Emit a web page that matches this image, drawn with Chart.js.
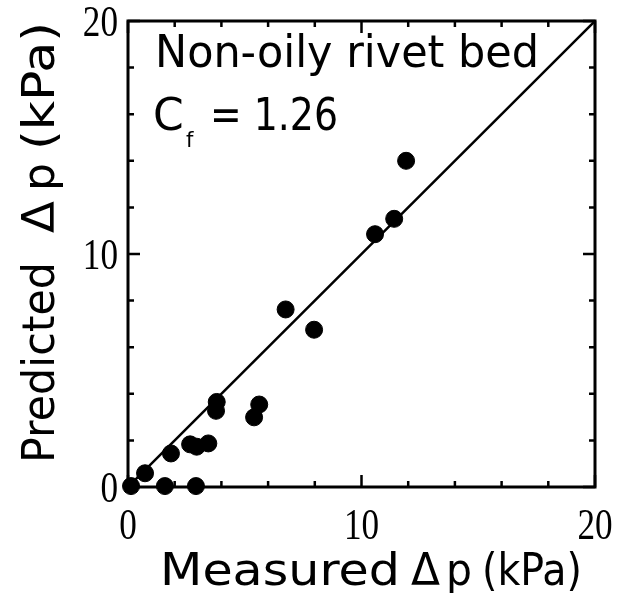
<!DOCTYPE html>
<html>
<head>
<meta charset="utf-8">
<script src="https://cdn.jsdelivr.net/npm/chart.js@4.4.1/dist/chart.umd.min.js"></script>
<style>
  body { margin: 0; background: #fff; }
  canvas { display: block; }
</style>
</head>
<body>
<canvas id="c" width="636" height="593"></canvas>
<script>
// measured vs predicted pressure drop, kPa
const measured  = [0.13, 0.73, 1.58, 2.91, 1.84, 2.66, 2.94, 3.44, 3.80, 3.77, 5.40, 5.62, 6.75, 7.97, 10.58, 11.40, 11.91];
const predicted = [0.04, 0.59, 0.04, 0.04, 1.44, 1.83, 1.73, 1.87, 3.65, 3.27, 2.99, 3.54, 7.62, 6.75, 10.85, 11.51, 14.00];

// y = x reference line
const lineX = [0, 20];
const lineY = [0, 20];

const axisMin = 0, axisMax = 20, tickStep = 2;
const labelTicks = [0, 10, 20];

const xTitleParts = ['Measured', 'Δ', 'p', '(kPa)'];
const yTitleParts = ['Predicted', 'Δ', 'p', '(kPa)'];
const noteLine1 = 'Non-oily rivet bed';
const cfValue = '= 1.26';

const sans = '"DejaVu Sans", "Liberation Sans", sans-serif';
const serif = '"Liberation Serif", "Times New Roman", serif';

// where each word of the titles sits (px along the text direction)
const xTitleSpans = [[160, 400], [411, 440], [446, 472], [482, 582]];
const yTitleSpans = [[463, 262], [233, 201], [191, 163], [150, 22]];

// draws text squeezed/stretched to a given width
function fitText(ctx, text, x, y, width, font) {
  ctx.save();
  ctx.font = font;
  const w = ctx.measureText(text).width;
  ctx.translate(x, y);
  ctx.scale(width / w, 1);
  ctx.fillText(text, 0, 0);
  ctx.restore();
}

const framePlugin = {
  id: 'frame',
  afterDraw(chart) {
    const ctx = chart.ctx;
    const a = chart.chartArea;
    const xs = chart.scales.x, ys = chart.scales.y;
    ctx.save();
    ctx.strokeStyle = '#000';
    ctx.fillStyle = '#000';
    ctx.lineWidth = 3;
    ctx.strokeRect(a.left, a.top, a.right - a.left, a.bottom - a.top);

    // inward ticks on all four sides
    ctx.lineWidth = 2.5;
    ctx.beginPath();
    xs.ticks.forEach(t => {
      const px = xs.getPixelForValue(t.value);
      const len = t.value % 10 === 0 ? 12 : 6;
      ctx.moveTo(px, a.bottom); ctx.lineTo(px, a.bottom - len);
      ctx.moveTo(px, a.top); ctx.lineTo(px, a.top + len);
    });
    ys.ticks.forEach(t => {
      const py = ys.getPixelForValue(t.value);
      const len = t.value % 10 === 0 ? 12 : 6;
      ctx.moveTo(a.left, py); ctx.lineTo(a.left + len, py);
      ctx.moveTo(a.right, py); ctx.lineTo(a.right - len, py);
    });
    ctx.stroke();

    // tick labels, narrow serif digits
    const tf = '44px ' + serif;
    ctx.font = tf;
    labelTicks.forEach(v => {
      const s = String(v);
      const w = ctx.measureText(s).width * 0.8;
      fitText(ctx, s, xs.getPixelForValue(v) - w / 2, 539, w, tf);
      fitText(ctx, s, 118 - w, ys.getPixelForValue(v) + 15, w, tf);
    });

    // axis titles
    const hf = '44px ' + sans;
    xTitleParts.forEach((p, i) => {
      const [s, e] = xTitleSpans[i];
      fitText(ctx, p, s, 585, e - s, hf);
    });
    ctx.save();
    ctx.translate(54, 0);
    ctx.rotate(-Math.PI / 2);
    yTitleParts.forEach((p, i) => {
      const [s, e] = yTitleSpans[i];
      fitText(ctx, p, -s, 0, s - e, hf);
    });
    ctx.restore();

    // annotation
    fitText(ctx, noteLine1, 155, 67, 384, '44px ' + sans);
    ctx.font = '44px ' + sans;
    ctx.fillText('C', 153, 130);
    ctx.font = '21px ' + sans;
    ctx.fillText('f', 186, 147);
    fitText(ctx, cfValue, 210, 130, 128, '44px ' + sans);
    ctx.restore();
  }
};

const points = measured.map((m, i) => ({ x: m, y: predicted[i] }));
const diag = lineX.map((v, i) => ({ x: v, y: lineY[i] }));

new Chart(document.getElementById('c'), {
  type: 'scatter',
  data: {
    datasets: [
      {
        data: points,
        backgroundColor: '#000',
        borderColor: '#000',
        pointRadius: 8.5,
        pointHoverRadius: 8.5,
        clip: false
      },
      {
        type: 'line',
        data: diag,
        borderColor: '#000',
        borderWidth: 2.5,
        pointRadius: 0,
        fill: false
      }
    ]
  },
  options: {
    responsive: false,
    animation: false,
    events: [],
    layout: { padding: { top: 21, right: 41, left: 0, bottom: 0 } },
    plugins: { legend: { display: false }, tooltip: { enabled: false } },
    scales: {
      x: {
        type: 'linear', min: axisMin, max: axisMax,
        ticks: { stepSize: tickStep, display: false },
        grid: { display: false },
        border: { display: false },
        afterFit: s => { s.height = 106; }
      },
      y: {
        type: 'linear', min: axisMin, max: axisMax,
        ticks: { stepSize: tickStep, display: false },
        grid: { display: false },
        border: { display: false },
        afterFit: s => { s.width = 128; }
      }
    }
  },
  plugins: [framePlugin]
});
</script>
</body>
</html>
